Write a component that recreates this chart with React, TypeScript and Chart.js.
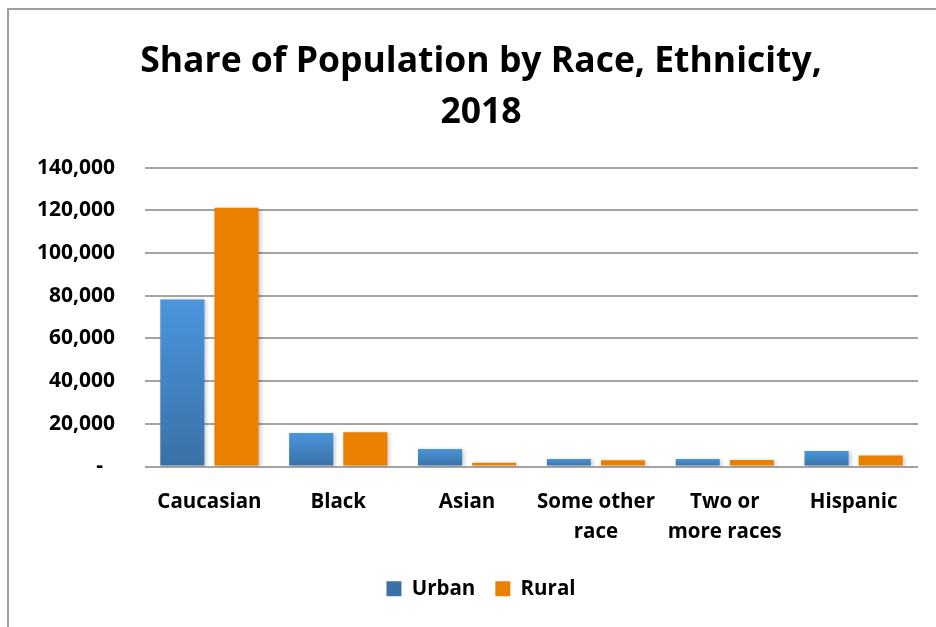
import React, { useEffect, useRef } from "react";
import { Chart, registerables } from "chart.js";

Chart.register(...registerables);

const TITLE_LINES = ["Share of Population by Race, Ethnicity,", "2018"];
const CATEGORIES: (string | string[])[] = [
  "Caucasian",
  "Black",
  "Asian",
  ["Some other", "race"],
  ["Two or", "more races"],
  "Hispanic",
];
const URBAN = [78300, 15700, 8200, 3500, 3500, 7250];
const RURAL = [121300, 16100, 1800, 2900, 3000, 5200];
const Y_MAX = 140000;
const Y_STEP = 20000;

const FONT = "'Open Sans', sans-serif";

const shadowPlugin = {
  id: "barShadow",
  beforeDatasetsDraw(chart: any) {
    const c = chart.ctx;
    c.save();
    c.shadowColor = "rgba(0,0,0,0.22)";
    c.shadowBlur = 4;
    c.shadowOffsetX = 2;
    c.shadowOffsetY = 1;
  },
  afterDatasetsDraw(chart: any) {
    chart.ctx.restore();
  },
};

export default function App() {
  const ref = useRef<HTMLCanvasElement | null>(null);

  useEffect(() => {
    if (!ref.current) return;
    const urbanFill = (ctx: any) => {
      const chart = ctx.chart;
      const y = chart.scales?.y;
      if (!y || ctx.raw === undefined || ctx.type !== "data") return "#4386CC";
      const top = y.getPixelForValue(ctx.raw);
      const base = y.getPixelForValue(0);
      if (!isFinite(top) || !isFinite(base) || top === base) return "#4386CC";
      const g = chart.ctx.createLinearGradient(0, top, 0, base);
      g.addColorStop(0, "#4A95DC");
      g.addColorStop(1, "#3A71A7");
      return g;
    };

    const chart = new Chart(ref.current, {
      type: "bar",
      data: {
        labels: CATEGORIES,
        datasets: [
          {
            label: "Urban",
            data: URBAN,
            backgroundColor: urbanFill,
            categoryPercentage: 0.84,
            barPercentage: 0.815,
          },
          {
            label: "Rural",
            data: RURAL,
            backgroundColor: "#EA7F00",
            categoryPercentage: 0.84,
            barPercentage: 0.815,
          },
        ],
      },
      plugins: [shadowPlugin],
      options: {
        animation: false,
        responsive: false,
        maintainAspectRatio: false,
        layout: { padding: { left: 44, right: 18, top: 0, bottom: 18 } },
        plugins: {
          title: {
            display: true,
            text: TITLE_LINES,
            color: "#000",
            font: { family: FONT, size: 35.5, weight: "bold", lineHeight: 1.42 },
            padding: { top: 37, bottom: 30 },
          },
          legend: {
            position: "bottom",
            labels: {
              color: "#000",
              font: { family: FONT, size: 20.5, weight: "bold" },
              boxWidth: 15,
              boxHeight: 15,
              padding: 20,
            },
          },
          tooltip: { enabled: false },
        },
        scales: {
          x: {
            grid: { display: false, drawTicks: false },
            border: { display: false },
            ticks: {
              color: "#000",
              font: { family: FONT, size: 20.5, weight: "bold", lineHeight: 1.46 },
              padding: 21,
              maxRotation: 0,
              autoSkip: false,
            },
            afterFit(scale: any) {
              scale.height = 92;
            },
          },
          y: {
            min: 0,
            max: Y_MAX,
            grid: { color: "#A3A3A3", lineWidth: 2, drawTicks: false },
            border: { display: false },
            ticks: {
              stepSize: Y_STEP,
              color: "#000",
              padding: 30,
              font: { family: FONT, size: 21, weight: "bold" },
              callback: (v: any) =>
                Number(v) === 0 ? "-\u2007" : Number(v).toLocaleString("en-US"),
            },
            afterFit(scale: any) {
              scale.width = 101;
              // let the tick labels extend left of the axis box without clipping
              scale._computeLabelArea = () => undefined;
            },
          },
        },
      },
    });
    return () => chart.destroy();
  }, []);

  return (
    <div
      style={{
        position: "fixed",
        left: 0,
        top: 0,
        width: 936,
        height: 627,
        overflow: "hidden",
        background: "#fff",
      }}
    >
      <div
        style={{
          position: "absolute",
          left: 7,
          top: 8,
          width: 940,
          height: 640,
          borderLeft: "2px solid #A0A0A0",
          borderTop: "2px solid #A0A0A0",
        }}
      />
      <canvas
        ref={ref}
        width={936}
        height={627}
        style={{ position: "absolute", left: 0, top: 0, width: 936, height: 627 }}
      />
    </div>
  );
}
